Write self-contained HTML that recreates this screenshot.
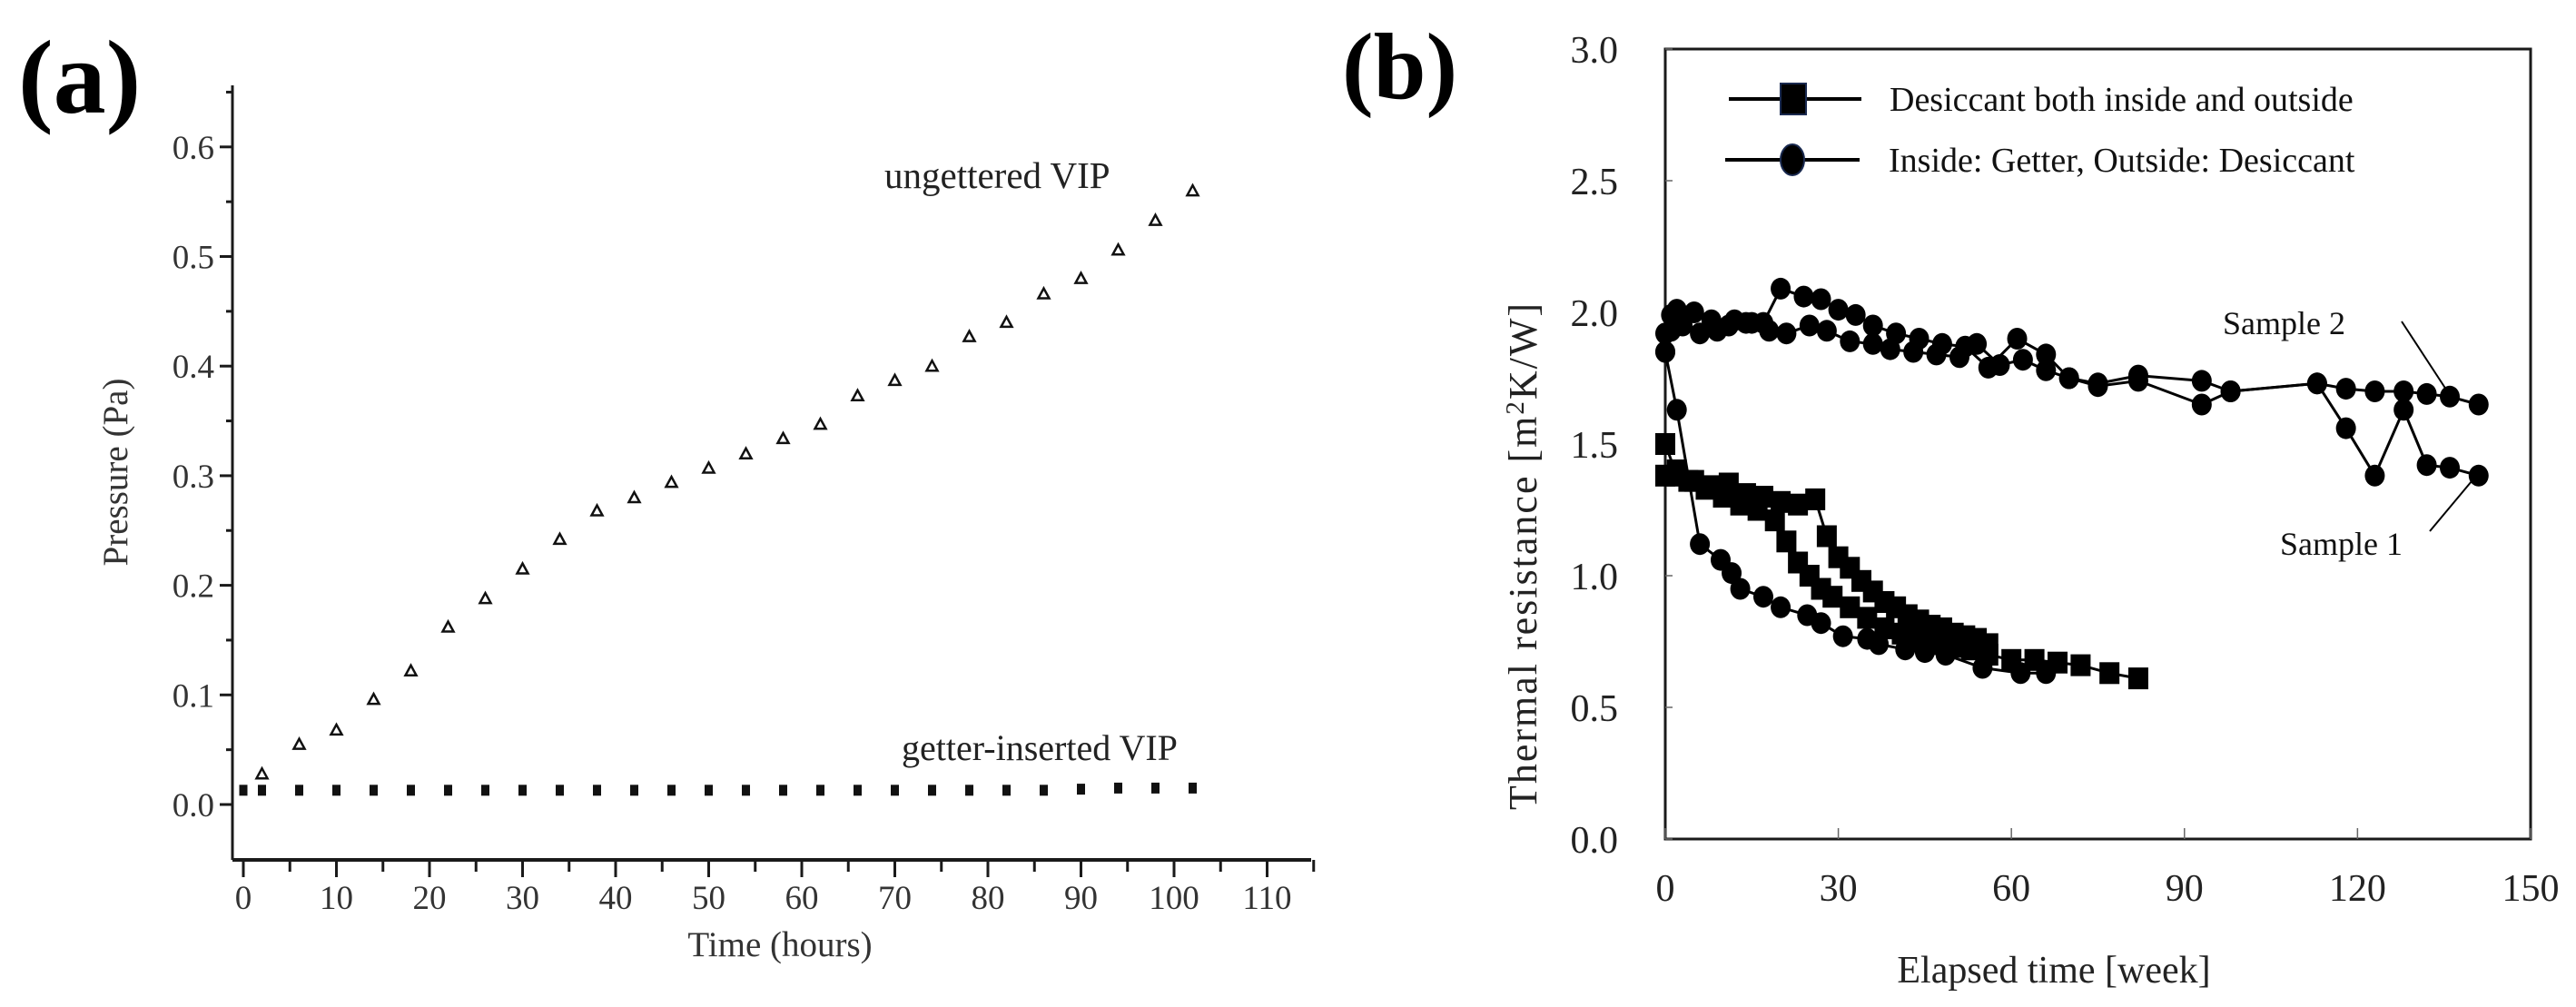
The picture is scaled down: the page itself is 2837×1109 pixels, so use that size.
<!DOCTYPE html>
<html><head><meta charset="utf-8"><style>
html,body{margin:0;padding:0;background:#fff;}
svg{display:block;font-family:"Liberation Serif",serif;}
</style></head><body>
<svg id="fig" width="2837" height="1109" viewBox="0 0 2837 1109" xmlns="http://www.w3.org/2000/svg">
<g id="pa"></g>
<g id="pb"></g>
</svg>
<script>
// Panel (a) data
const aTimes = [2,6,10,14,18,22,26,30,34,38,42,46,50,54,58,62,66,70,74,78,82,86,90,94,98,102];
const aUngettered = [0.028,0.055,0.068,0.096,0.122,0.162,0.188,0.215,0.242,0.268,0.280,0.294,0.307,0.320,0.334,0.347,0.373,0.387,0.400,0.427,0.440,0.466,0.480,0.506,0.533,0.560];
const aGetterTimes = [0,2,6,10,14,18,22,26,30,34,38,42,46,50,54,58,62,66,70,74,78,82,86,90,94,98,102];
const aGetter = [0.013,0.013,0.013,0.013,0.013,0.013,0.013,0.013,0.013,0.013,0.013,0.013,0.013,0.013,0.013,0.013,0.013,0.013,0.013,0.013,0.013,0.013,0.013,0.014,0.015,0.015,0.015];
const aXTicks = [0,10,20,30,40,50,60,70,80,90,100,110];
const aYTicks = [0.0,0.1,0.2,0.3,0.4,0.5,0.6];
// Panel (b) data
const bXTicks = [0,30,60,90,120,150];
const bYTicks = [0.0,0.5,1.0,1.5,2.0,2.5,3.0];
const sqAWeeks = [0,2,5,8,11,14,17,20,23,26,28,30,32,34,36,38,40,42,44,46,48,50,52,54,56];
const sqAVals = [1.50,1.38,1.36,1.34,1.35,1.31,1.30,1.28,1.27,1.29,1.15,1.07,1.03,0.98,0.94,0.90,0.88,0.85,0.83,0.81,0.80,0.78,0.77,0.76,0.74];
const sqBWeeks = [0,2,4,7,10,13,16,19,21,23,25,27,29,32,35,38,41,44,47,50,53,56,60,64,68,72,77,82];
const sqBVals = [1.38,1.40,1.36,1.33,1.30,1.27,1.25,1.21,1.13,1.05,1.00,0.95,0.92,0.88,0.84,0.80,0.78,0.76,0.74,0.73,0.72,0.70,0.68,0.68,0.67,0.66,0.63,0.61];
const s2Weeks = [0,1,2,5,8,11,14,17,20,24,27,30,33,36,40,44,48,52,56,61,66,70,75,82,93,98,113,118,123,128,132,136,141];
const s2Vals = [1.85,1.93,2.01,2.00,1.97,1.95,1.96,1.96,2.09,2.06,2.05,2.01,1.99,1.95,1.92,1.90,1.88,1.87,1.79,1.90,1.84,1.75,1.73,1.76,1.74,1.70,1.73,1.71,1.70,1.70,1.69,1.68,1.65];
const s1Weeks = [0,1,3,6,9,12,15,18,21,25,28,32,36,39,43,47,51,54,58,62,66,70,75,82,93,98,113,118,123,128,132,136,141];
const s1Vals = [1.92,1.99,1.95,1.92,1.93,1.97,1.96,1.93,1.92,1.95,1.93,1.89,1.88,1.86,1.85,1.84,1.83,1.88,1.80,1.82,1.78,1.75,1.72,1.74,1.65,1.70,1.73,1.56,1.38,1.63,1.42,1.41,1.38];
const s3Weeks = [0,2,6,9.6,11.5,13,17,20,24.6,27,30.8,35,37,41.6,45,48.6,55,61.6,66];
const s3Vals = [1.85,1.63,1.12,1.06,1.01,0.95,0.92,0.88,0.85,0.82,0.77,0.76,0.74,0.72,0.71,0.70,0.65,0.63,0.63];

const NS="http://www.w3.org/2000/svg";
function mk(parent,tag,attrs,text){const e=document.createElementNS(NS,tag);for(const k in attrs)e.setAttribute(k,attrs[k]);if(text!==undefined)e.textContent=text;parent.appendChild(e);return e;}
const C="#1a1a1a";

// ---------- Panel a ----------
const pa=document.getElementById('pa');
const ax=t=>268+t*10.25;
const ay=v=>886-v*1207;
let e;
e=mk(pa,'text',{x:20,y:124,'font-size':116,'font-weight':'bold',fill:'#000'},'(a)');


e=mk(pa,'line',{x1:256,y1:94,x2:256,y2:947,stroke:C,'stroke-width':3});


e=mk(pa,'line',{x1:256,y1:947,x2:1444,y2:947,stroke:C,'stroke-width':4});


for(let v=0;v<=0.65;v+=0.05){const y=ay(v);const major=Math.abs(v*10-Math.round(v*10))<0.01;
  e=mk(pa,'line',{x1:major?242:249,y1:y,x2:256,y2:y,stroke:C,'stroke-width':3});
  
  }
aYTicks.forEach(v=>{e=mk(pa,'text',{x:236,y:ay(v)+13,'font-size':37,'text-anchor':'end',fill:'#333'},v.toFixed(1));
  
  });
for(let t=0;t<=115;t+=5){const x=ax(t);const major=t%10===0;
  e=mk(pa,'line',{x1:x,y1:947,x2:x,y2:major?966:960,stroke:C,'stroke-width':3});
  
  }
aXTicks.forEach(t=>{e=mk(pa,'text',{x:ax(t),y:1001,'font-size':37,'text-anchor':'middle',fill:'#333'},String(t));
  
  });
e=mk(pa,'text',{x:859,y:1053,'font-size':39,'text-anchor':'middle',fill:'#333'},'Time (hours)');


e=mk(pa,'text',{x:0,y:0,'font-size':39,'text-anchor':'middle',fill:'#333',transform:'translate(140,520) rotate(-90)'},'Pressure (Pa)');


aTimes.forEach((t,i)=>{const x=ax(t),y=ay(aUngettered[i]);
  e=mk(pa,'path',{d:`M${x},${y-6} L${x+6},${y+5} L${x-6},${y+5} Z`,fill:'none',stroke:'#111','stroke-width':2.5});
  
  });
aGetterTimes.forEach((t,i)=>{const x=ax(t),y=ay(aGetter[i]);
  e=mk(pa,'rect',{x:x-4.5,y:y-6,width:9,height:12,fill:'#111'});
  
  });
e=mk(pa,'text',{x:974,y:207,'font-size':41,fill:'#222'},'ungettered VIP');


e=mk(pa,'text',{x:993,y:837,'font-size':40,fill:'#222'},'getter-inserted VIP');



// ---------- Panel b ----------
const pb=document.getElementById('pb');
const bx=w=>1834+w*6.353;
const by=v=>924-v*290;
e=mk(pb,'text',{x:1478,y:108,'font-size':104,'font-weight':'bold',fill:'#000'},'(b)');


e=mk(pb,'rect',{x:1834,y:54,width:953,height:870,fill:'none',stroke:C,'stroke-width':3});


bYTicks.forEach(v=>{
  e=mk(pb,'line',{x1:1834,y1:by(v),x2:1842,y2:by(v),stroke:'#666','stroke-width':1.5});
  
  
  e=mk(pb,'text',{x:1782,y:by(v)+15,'font-size':42,'text-anchor':'end',fill:'#222'},v.toFixed(1));
  
  });
bXTicks.forEach(w=>{
  e=mk(pb,'line',{x1:bx(w),y1:924,x2:bx(w),y2:912,stroke:'#666','stroke-width':1.5});
  
  
  e=mk(pb,'text',{x:bx(w),y:992,'font-size':42,'text-anchor':'middle',fill:'#222'},String(w));
  
  });
e=mk(pb,'text',{x:2262,y:1082,'font-size':42,'text-anchor':'middle',fill:'#222'},'Elapsed time [week]');


e=mk(pb,'text',{x:0,y:0,'font-size':44,'letter-spacing':2,'text-anchor':'middle',fill:'#222',transform:'translate(1692,612) rotate(-90)'});


e.innerHTML='Thermal resistance [m<tspan dy="-14" font-size="29">2</tspan><tspan dy="14">K/W]</tspan>';

function series(ws,vs,kind,name){
  const pts=ws.map((w,i)=>bx(w)+','+by(vs[i])).join(' ');
  e=mk(pb,'polyline',{points:pts,fill:'none',stroke:'#000','stroke-width':3});
  
  
  ws.forEach((w,i)=>{const x=bx(w),y=by(vs[i]);
    if(kind==='sq'){e=mk(pb,'rect',{x:x-11,y:y-12,width:22,height:24,fill:'#000'});}
    else{e=mk(pb,'ellipse',{cx:x,cy:y,rx:11,ry:12,fill:'#000'});}
    
    });
}
series(s3Weeks,s3Vals,'ci','getter-series-drop');
series(sqAWeeks,sqAVals,'sq','desiccant-series-a');
series(sqBWeeks,sqBVals,'sq','desiccant-series-b');
series(s1Weeks,s1Vals,'ci','getter-sample-1');
series(s2Weeks,s2Vals,'ci','getter-sample-2');

// legend
e=mk(pb,'line',{x1:1904,y1:109,x2:2050,y2:109,stroke:'#000','stroke-width':4});


e=mk(pb,'rect',{x:1961,y:92,width:28,height:34,fill:'#000',stroke:'#1a2a50','stroke-width':2});


e=mk(pb,'text',{x:2081,y:122,'font-size':38,fill:'#111'},'Desiccant  both inside and outside');


e=mk(pb,'line',{x1:1900,y1:176,x2:2048,y2:176,stroke:'#000','stroke-width':4});


e=mk(pb,'ellipse',{cx:1974,cy:176,rx:13,ry:17,fill:'#000',stroke:'#1a2a50','stroke-width':2});


e=mk(pb,'text',{x:2080,y:189,'font-size':38,fill:'#111'},'Inside: Getter,  Outside: Desiccant');


// annotations
e=mk(pb,'text',{x:2448,y:368,'font-size':36,fill:'#111'},'Sample 2');


e=mk(pb,'line',{x1:2645,y1:354,x2:2696,y2:432,stroke:'#000','stroke-width':2});


e=mk(pb,'text',{x:2511,y:611,'font-size':36,fill:'#111'},'Sample 1');


e=mk(pb,'line',{x1:2676,y1:585,x2:2722,y2:530,stroke:'#000','stroke-width':2});


</script>
</body></html>
